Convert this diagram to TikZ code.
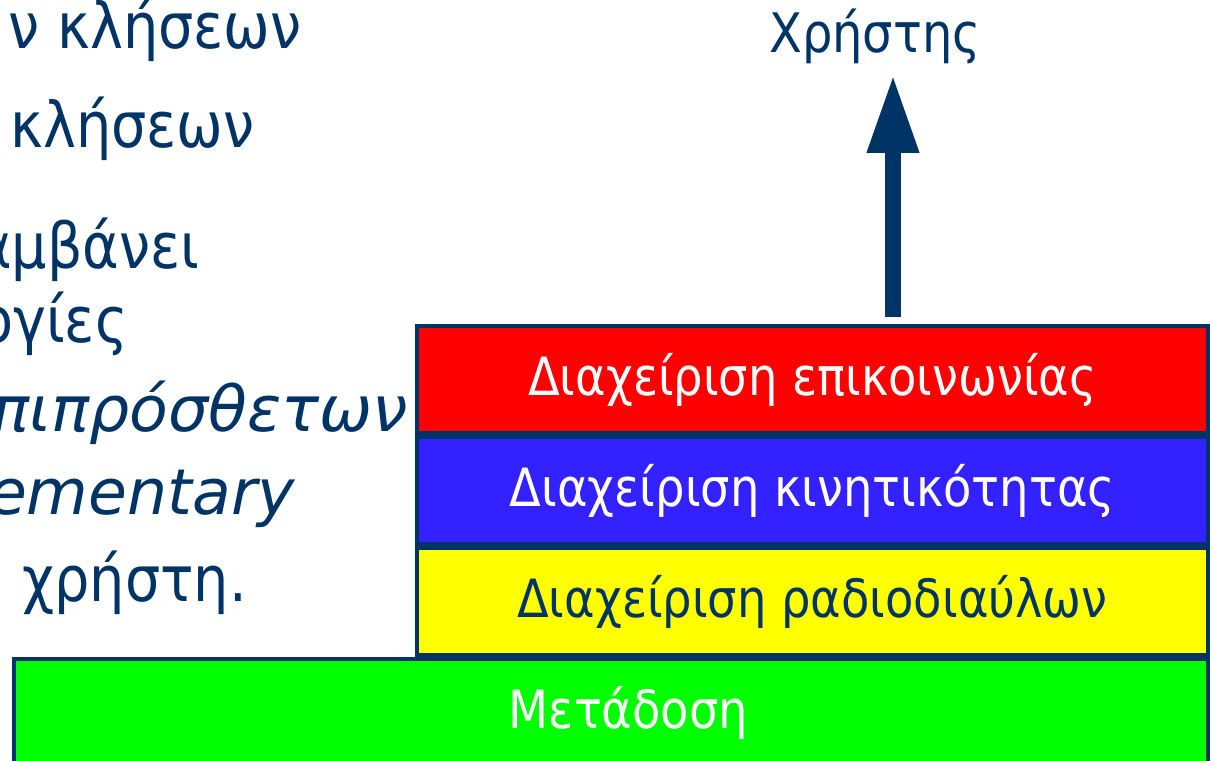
\documentclass[tikz,border=0pt]{standalone}
\usepackage{fontspec}
\usepackage{xcolor}
\setmainfont[FakeStretch=0.88]{DejaVu Sans}
\newfontfamily\slantfont{DejaVu Sans}
\usetikzlibrary{positioning, arrows.meta}
\definecolor{navy}{RGB}{0,51,102}
\definecolor{layerred}{RGB}{255,0,0}
\definecolor{layerblue}{RGB}{51,34,255}
\definecolor{layeryellow}{RGB}{255,255,0}
\definecolor{layergreen}{RGB}{0,255,0}
\newcommand{\boxfont}{\fontsize{30}{36}\selectfont}
\newcommand{\sidefont}{\fontsize{36}{43}\selectfont}
\tikzset{every node/.style={inner sep=0pt}}
\begin{document}
\begin{tikzpicture}[>=Triangle,
    layer/.style={draw=navy,line width=0.08cm,minimum height=2.14cm,
        minimum width=15.82cm,text=white,font=\boxfont},
    side/.style={font=\sidefont,text=navy,anchor=base east},
    sideit/.style={side,font=\sidefont\slantfont\itshape}]
    \clip (0,0) rectangle (24.24,15.2);
    % text on the left, cut off by the page
    \node[side] (l1) at (6.04,14.22) {ν κλήσεων};
    \node[side] (l2) at (5.10,12.24) {κλήσεων};
    \node[side] (l3) at (4.00,9.82) {αμβάνει};
    \node[side] (l4) at (2.56,8.36) {ογίες};
    \node[sideit] (l5) at (8.16,6.58) {επιπρόσθετων};
    \node[sideit] (l6) at (5.90,4.92) {lementary};
    \node[side,anchor=base west] (l7) at (0.44,3.18) {χρήστη.};
    % layers
    \node[layer,fill=layerred,anchor=north east] (comm) at (24.2,8.72) {Διαχείριση επικοινωνίας};
    \node[layer,fill=layerblue,below=0pt of comm] (mob) {Διαχείριση κινητικότητας};
    \node[layer,fill=layeryellow,text=navy,below=0pt of mob] (radio) {Διαχείριση ραδιοδιαύλων};
    \node[layer,fill=layergreen,minimum width=23.88cm,anchor=north east] (trans) at (radio.south east) {\hspace*{0.7cm}Μετάδοση};
    % user
    \node[font=\fontsize{31}{37}\selectfont,text=navy,anchor=base] (user) at (17.5,14.14) {Χρήστης};
    \coordinate (foot) at (17.86,8.86);
    \coordinate (tip) at (17.86,13.72);
    \draw[navy,line width=0.32cm,-{Triangle[width=0.96cm,length=1.58cm]}] (foot) -- (tip);
\end{tikzpicture}
\end{document}
